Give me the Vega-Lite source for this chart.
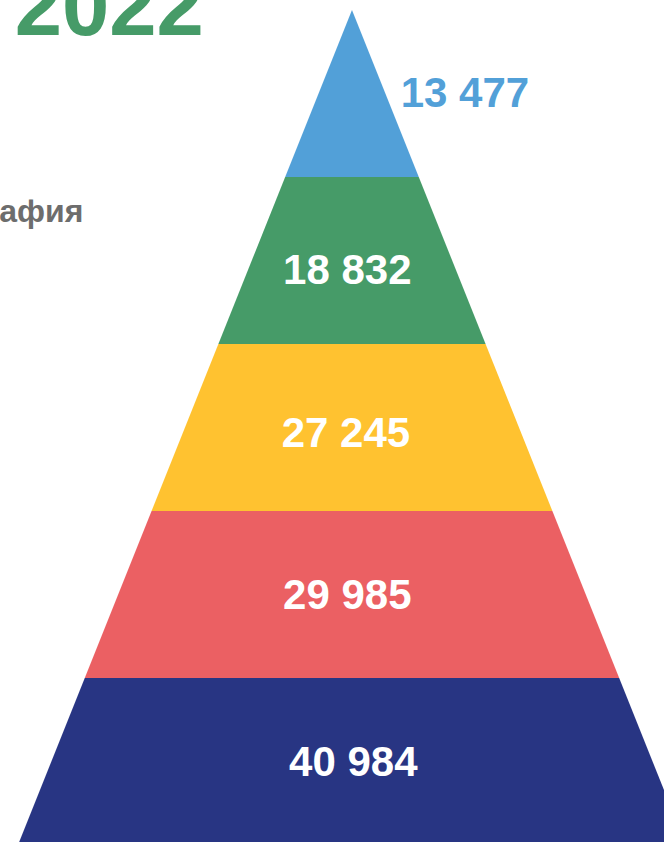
{
  "$schema": "https://vega.github.io/schema/vega-lite/v6.json",
  "width": 664,
  "height": 842,
  "autosize": {"type": "none"},
  "padding": 0,
  "background": "#ffffff",
  "config": {"view": {"stroke": null}},
  "datasets": {
    "bands": [
      {"band": "b1", "lv": 0, "u": 0, "u2": 0},
      {"band": "b1", "lv": 1, "u": -1, "u2": 1},
      {"band": "b2", "lv": 1, "u": -1, "u2": 1},
      {"band": "b2", "lv": 2, "u": -2, "u2": 2},
      {"band": "b3", "lv": 2, "u": -2, "u2": 2},
      {"band": "b3", "lv": 3, "u": -3, "u2": 3},
      {"band": "b4", "lv": 3, "u": -3, "u2": 3},
      {"band": "b4", "lv": 4, "u": -4, "u2": 4},
      {"band": "b5", "lv": 4, "u": -4, "u2": 4},
      {"band": "b5", "lv": 5, "u": -5, "u2": 5}
    ],
    "white": [
      {"label": "18 832", "lv": 1.56, "u": -0.07},
      {"label": "27 245", "lv": 2.54, "u": -0.09},
      {"label": "29 985", "lv": 3.51, "u": -0.07},
      {"label": "40 984", "lv": 4.51, "u": 0.02}
    ],
    "top": [{"label": "13 477", "lv": 0.5, "u": 1.69}],
    "title": [{"label": "2022", "lv": 0.15, "u": -5.05}],
    "sub": [{"label": "Демография", "lv": 1.27, "u": -4.02}]
  },
  "encoding": {
    "x": {"field": "u", "type": "quantitative", "scale": {"domain": [-5.269, 4.671], "zero": false, "nice": false}, "axis": null},
    "y": {"field": "lv", "type": "quantitative", "scale": {"domain": [-0.0599, 4.982], "reverse": true, "zero": false, "nice": false}, "axis": null}
  },
  "layer": [
    {
      "data": {"name": "bands"},
      "mark": {"type": "area", "orient": "horizontal", "clip": true},
      "encoding": {
        "x2": {"field": "u2"},
        "color": {"field": "band", "type": "nominal", "scale": {"domain": ["b1", "b2", "b3", "b4", "b5"], "range": ["#52a0d8", "#469b68", "#ffc230", "#eb6063", "#283583"]}, "legend": null}
      }
    },
    {
      "data": {"name": "white"},
      "mark": {"type": "text", "font": "Liberation Sans", "fontWeight": "bold", "fontSize": 42, "color": "#ffffff", "align": "center", "baseline": "middle"},
      "encoding": {"text": {"field": "label"}}
    },
    {
      "data": {"name": "top"},
      "mark": {"type": "text", "font": "Liberation Sans", "fontWeight": "bold", "fontSize": 42, "color": "#52a0d8", "align": "center", "baseline": "middle"},
      "encoding": {"text": {"field": "label"}}
    },
    {
      "data": {"name": "title"},
      "mark": {"type": "text", "font": "Liberation Sans", "fontWeight": "bold", "fontSize": 85, "color": "#469b68", "align": "left", "baseline": "alphabetic"},
      "encoding": {"text": {"field": "label"}}
    },
    {
      "data": {"name": "sub"},
      "mark": {"type": "text", "font": "Liberation Sans", "fontWeight": "bold", "fontSize": 32, "color": "#6d6d6d", "align": "right", "baseline": "alphabetic"},
      "encoding": {"text": {"field": "label"}}
    }
  ]
}
